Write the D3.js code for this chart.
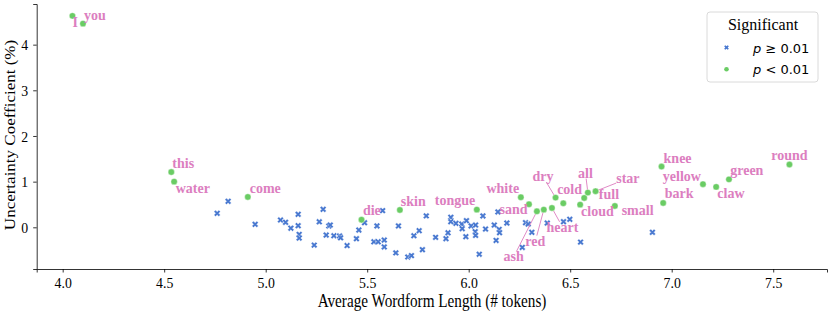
<!DOCTYPE html>
<html>
<head>
<meta charset="utf-8">
<script src="https://cdn.jsdelivr.net/npm/d3@7"></script>
<style>
  body { margin: 0; background: #fff; }
  text { font-family: "Liberation Serif", "Times New Roman", serif; }
</style>
</head>
<body>
<div id="chart"></div>
<script>
// significant words (p < 0.01)
const sigWords = ["I", "you", "this", "water", "come", "die", "skin", "tongue", "white", "sand",
                  "ash", "red", "heart", "dry", "cold", "cloud", "full", "all", "star", "small",
                  "knee", "bark", "yellow", "claw", "green", "round"];
const sigLength = [4.048, 4.10, 4.535, 4.549, 4.912, 5.472, 5.661, 6.040, 6.257, 6.297,
                   6.336, 6.370, 6.410, 6.428, 6.466, 6.549, 6.569, 6.587, 6.625, 6.720,
                   6.950, 6.958, 7.154, 7.219, 7.282, 7.580];
const sigCoef = [4.63, 4.46, 1.21, 1.00, 0.665, 0.167, 0.38, 0.387, 0.658, 0.504,
                 0.35, 0.387, 0.424, 0.65, 0.526, 0.496, 0.643, 0.76, 0.79, 0.468,
                 1.33, 0.533, 0.944, 0.885, 1.05, 1.375];
// where the label text sits (data units, as placed by the text adjuster)
const labelLength = [4.062, 4.159, 4.594, 4.641, 4.998, 5.523, 5.727, 5.933, 6.168, 6.221,
                     6.221, 6.328, 6.462, 6.366, 6.497, 6.634, 6.691, 6.575, 6.784, 6.832,
                     7.029, 7.037, 7.050, 7.292, 7.370, 7.580];
const labelCoef = [4.49, 4.63, 1.39, 0.84, 0.84, 0.36, 0.555, 0.577, 0.85, 0.38,
                   -0.647, -0.302, 0.0, 1.11, 0.82, 0.34, 0.71, 1.186, 1.07, 0.373,
                   1.516, 0.73, 1.112, 0.73, 1.243, 1.566];
const withLeader = ["ash", "red", "heart", "dry", "all", "star"];

// non-significant words (p >= 0.01)
const nsLength = [4.761, 4.815, 4.948, 5.073, 5.098, 5.124, 5.160, 5.160, 5.165, 5.165,
                  5.239, 5.264, 5.283, 5.298, 5.311, 5.318, 5.336, 5.364, 5.369, 5.401,
                  5.447, 5.459, 5.487, 5.548, 5.533, 5.554, 5.576, 5.584, 5.584, 5.641,
                  5.654, 5.700, 5.718, 5.730, 5.756, 5.772, 5.791, 5.837, 5.888, 5.898,
                  5.912, 5.912, 5.937, 5.966, 5.968, 5.986, 5.989, 6.012, 6.032, 6.034,
                  6.034, 6.052, 6.070, 6.083, 6.126, 6.135, 6.144, 6.150, 6.152, 6.188,
                  6.264, 6.280, 6.293, 6.311, 6.387, 6.467, 6.498, 6.551, 6.905];
const nsCoef = [0.307, 0.57, 0.065, 0.16, 0.11, -0.02, 0.285, 0.035, -0.155, -0.235,
                -0.39, 0.12, 0.395, -0.17, 0.03, 0.05, -0.185, -0.19, -0.23, -0.40,
                -0.25, -0.06, 0.10, 0.03, -0.317, -0.317, 0.365, -0.28, -0.43, -0.56,
                0.03, -0.65, -0.62, -0.185, -0.075, -0.49, 0.25, -0.22, -0.25, -0.12,
                0.22, 0.123, 0.087, 0.072, -0.03, -0.206, 0.145, 0.03, -0.096, 0.05,
                -0.177, -0.59, 0.248, -0.038, 0.05, -0.287, 0.336, -0.045, -0.118, 0.094,
                -0.44, 0.101, 0.072, -0.11, 0.094, 0.123, 0.175, -0.324, -0.11];

const xTicks = [4.0, 4.5, 5.0, 5.5, 6.0, 6.5, 7.0, 7.5];
const yTicks = [0, 1, 2, 3, 4];
const legendLabels = ["≥ 0.01", "< 0.01"];

const W = 831, H = 312;
const blue = "#4878d0", green = "#6acc64", pink = "#dc7ec0";
const squeeze = 0.92;   // axis text in the original is a bit narrow

const svg = d3.select("#chart").append("svg")
              .attr("width", W)
              .attr("height", H);

const x = d3.scaleLinear().domain([3.872, 7.765]).range([36.7, 827]);
const y = d3.scaleLinear().domain([-0.913, 4.89]).range([269, 4]);

// axes
const xAxis = svg.append("g")
   .attr("transform", "translate(0,269)")
   .call(d3.axisBottom(x).tickValues(xTicks).tickFormat(d3.format(".1f")).tickSize(3.5));
xAxis.selectAll(".tick text")
   .attr("y", null).attr("dy", null)
   .attr("dominant-baseline", "central")
   .attr("transform", `translate(0,13.4) scale(${squeeze},1)`);

const yAxis = svg.append("g")
   .attr("transform", "translate(36.7,0)")
   .call(d3.axisLeft(y).tickValues(yTicks).tickFormat(d3.format("d")).tickSize(3.5));
yAxis.selectAll(".tick text")
   .attr("x", null).attr("dy", null)
   .attr("dominant-baseline", "central")
   .attr("transform", `translate(-8.5,0) scale(${squeeze},1)`);

[xAxis, yAxis].forEach(a => {
    a.selectAll("text").attr("font-size", 15).attr("fill", "#000");
    a.selectAll("line").attr("stroke", "#000").attr("stroke-width", 0.8);
    a.select(".domain").attr("stroke", "#000").attr("stroke-width", 0.8);
});

svg.append("text")
   .attr("transform", "translate(432,301) scale(0.845,1)")
   .attr("text-anchor", "middle").attr("dominant-baseline", "central")
   .attr("font-size", 18)
   .text("Average Wordform Length (# tokens)");
svg.append("text")
   .attr("transform", "translate(10,135) scale(0.86,1) rotate(-90)")
   .attr("text-anchor", "middle").attr("dominant-baseline", "central")
   .attr("font-size", 17)
   .text("Uncertainty Coefficient (%)");

// non-significant: filled X
const xMark = d3.symbol().type(d3.symbolCross).size(26);
svg.append("g").selectAll("path")
   .data(d3.range(nsLength.length))
   .join("path")
   .attr("d", xMark)
   .attr("transform", i => `translate(${x(nsLength[i])},${y(nsCoef[i])}) rotate(45)`)
   .attr("fill", blue)
   .attr("stroke", "#fff")
   .attr("stroke-width", 0.4);

// leader lines go under the points
const leaders = svg.append("g");

// significant: circles
svg.append("g").selectAll("circle")
   .data(d3.range(sigWords.length))
   .join("circle")
   .attr("cx", i => x(sigLength[i]))
   .attr("cy", i => y(sigCoef[i]))
   .attr("r", 3.2)
   .attr("fill", green)
   .attr("stroke", "#fff")
   .attr("stroke-width", 0.4);

// word labels
const labels = svg.append("g").selectAll("text")
   .data(d3.range(sigWords.length))
   .join("text")
   .attr("x", i => x(labelLength[i]))
   .attr("y", i => y(labelCoef[i]))
   .attr("text-anchor", "middle")
   .attr("dominant-baseline", "central")
   .attr("font-size", 14)
   .attr("font-weight", "bold")
   .attr("fill", pink)
   .text(i => sigWords[i]);

labels.each(function(i) {
    if (!withLeader.includes(sigWords[i])) return;
    const b = this.getBBox();
    const cx = b.x + b.width / 2, cy = b.y + b.height / 2;
    const px = x(sigLength[i]), py = y(sigCoef[i]);
    const dx = px - cx, dy = py - cy;
    const t = Math.min(Math.abs((b.width / 2) / (dx || 1e-9)), Math.abs((b.height / 2 - 2) / (dy || 1e-9)));
    leaders.append("line")
       .attr("x1", cx + dx * t).attr("y1", cy + dy * t)
       .attr("x2", px).attr("y2", py)
       .attr("stroke", pink)
       .attr("stroke-width", 0.9);
});

// legend
const lg = svg.append("g").attr("transform", "translate(707,12)");
lg.append("rect")
  .attr("width", 111).attr("height", 70)
  .attr("rx", 3)
  .attr("fill", "#fff").attr("fill-opacity", 0.8)
  .attr("stroke", "#d0d0d0").attr("stroke-width", 0.8);
lg.append("text")
  .attr("x", 56).attr("y", 12.5)
  .attr("text-anchor", "middle").attr("dominant-baseline", "central")
  .attr("font-size", 16)
  .text("Significant");
legendLabels.forEach((lab, k) => {
    const ly = 35.5 + k * 21.8;
    if (k === 0) {
        lg.append("path")
          .attr("d", d3.symbol().type(d3.symbolCross).size(14)())
          .attr("transform", `translate(19.5,${ly}) rotate(45)`)
          .attr("fill", blue);
    } else {
        lg.append("circle").attr("cx", 19.5).attr("cy", ly).attr("r", 2.3).attr("fill", green);
    }
    const t = lg.append("text")
      .attr("x", 46).attr("y", ly)
      .attr("dominant-baseline", "central")
      .style("font-family", "'DejaVu Sans', sans-serif")
      .attr("font-size", 13);
    t.append("tspan").attr("font-style", "italic").text("p");
    t.append("tspan").text(" " + lab);
});
</script>
</body>
</html>
